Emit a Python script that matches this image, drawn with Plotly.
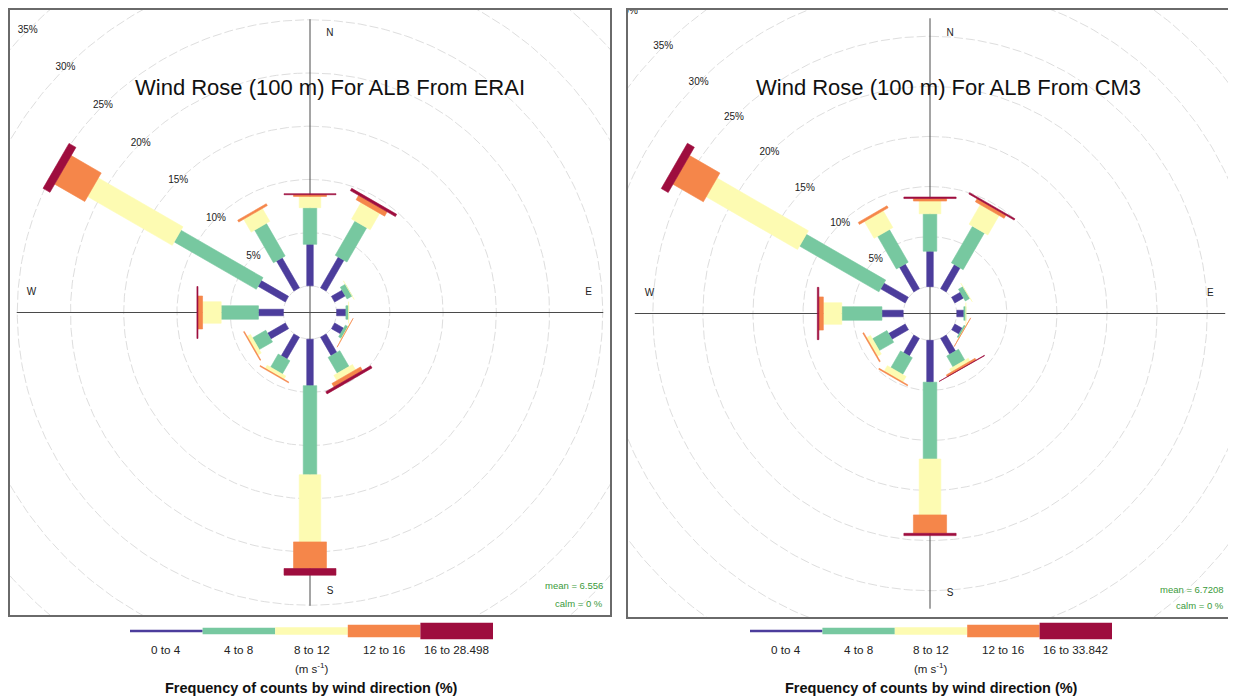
import numpy as np
import plotly.graph_objects as go

# page body has an 8px margin; figure is placed at (8, 8)
PAGE_OFF = 8
FIG_W, FIG_H = 1236 - PAGE_OFF, 698 - PAGE_OFF

# ---------------- data ----------------
directions = [0, 30, 60, 90, 120, 150, 180, 210, 240, 270, 300, 330]
grid_pcts = [0, 5, 10, 15, 20, 25, 30, 35, 40]

# ERAI: frequency (%) by direction for each speed bin
erai_0_4 = [3.90, 3.34, 1.15, 0.87, 0.97, 2.00, 4.37, 2.37, 1.93, 2.34, 2.96, 3.26]
erai_4_8 = [3.44, 3.72, 0.55, 0.25, 0.28, 1.73, 8.37, 1.43, 1.44, 3.50, 8.90, 3.54]
erai_8_12 = [1.06, 1.78, 0.05, 0.03, 0.03, 0.57, 6.31, 0.35, 0.36, 1.75, 9.18, 1.40]
erai_12_16 = [0.16, 0.47, 0.00, 0.00, 0.05, 0.38, 2.50, 0.08, 0.08, 0.43, 3.26, 0.20]
erai_16_up = [0.10, 0.25, 0.00, 0.00, 0.00, 0.24, 0.63, 0.00, 0.00, 0.10, 0.75, 0.00]

# CM3
cm3_0_4 = [3.54, 2.77, 1.00, 0.70, 0.85, 1.84, 4.18, 2.03, 1.90, 2.12, 2.82, 2.85]
cm3_4_8 = [3.74, 4.23, 0.50, 0.20, 0.18, 1.26, 7.67, 1.93, 1.66, 4.01, 9.15, 3.76]
cm3_8_12 = [1.27, 2.25, 0.06, 0.03, 0.03, 0.35, 5.58, 0.64, 0.45, 1.84, 10.53, 1.94]
cm3_12_16 = [0.25, 0.35, 0.00, 0.00, 0.05, 0.20, 1.84, 0.10, 0.10, 0.45, 3.50, 0.23]
cm3_16_up = [0.15, 0.15, 0.00, 0.00, 0.00, 0.05, 0.23, 0.00, 0.00, 0.15, 0.80, 0.00]

erai_labels = ["0 to 4", "4 to 8", "8 to 12", "12 to 16", "16 to 28.498"]
cm3_labels = ["0 to 4", "4 to 8", "8 to 12", "12 to 16", "16 to 33.842"]
erai_mean, cm3_mean = "6.556", "6.7208"
erai_calm, cm3_calm = "0", "0"

# ---------------- style ----------------
colors = ["#4C3D9C", "#77C8A0", "#FDFBB2", "#F5864A", "#9E0D3E"]
half_width_frac = [0.0122, 0.0253, 0.0403, 0.0618, 0.0974]
legend_heights = [2.7, 6.7, 7.7, 12.3, 16.7]
FONT = "Liberation Sans, Arial, sans-serif"
RANGE_F = 1.023


def px_x(px):
    return (px - PAGE_OFF) / FIG_W


def px_y(py):
    return 1 - (py - PAGE_OFF) / FIG_H


panels = [
    dict(bins=[erai_0_4, erai_4_8, erai_8_12, erai_12_16, erai_16_up],
         xa="x", ya="y", box=(10, 10, 610, 615),
         title="Wind Rose (100 m) For ALB From ERAI", title_x=330,
         labels=erai_labels, mean=erai_mean, calm=erai_calm,
         leg_x0=130, leg_x1=493, mean_y=585, calm_y=603, stat_x=605),
    dict(bins=[cm3_0_4, cm3_4_8, cm3_8_12, cm3_12_16, cm3_16_up],
         xa="x2", ya="y2", box=(628, 10, 1232, 617),
         title="Wind Rose (100 m) For ALB From CM3", title_x=948,
         labels=cm3_labels, mean=cm3_mean, calm=cm3_calm,
         leg_x0=750, leg_x1=1112, mean_y=589, calm_y=605, stat_x=1226),
]

fig = go.Figure()
layout_axes = {}
shapes = []
annotations = []

ang = np.linspace(0, 2 * np.pi, 361)

for P in panels:
    bins = np.array(P["bins"], dtype=float)
    totals = bins.sum(axis=0)
    mx = totals.max()
    hole = 0.1 * mx
    cum = np.cumsum(bins, axis=0)
    start = cum - bins
    xa, ya = P["xa"], P["ya"]

    # grid circles
    for g in grid_pcts:
        r = hole + g
        fig.add_trace(go.Scatter(
            x=r * np.sin(ang), y=r * np.cos(ang), mode="lines",
            line=dict(color="#dedede", width=1, dash="9px,3px"),
            hoverinfo="skip", showlegend=False, xaxis=xa, yaxis=ya))

    # axis cross lines
    L = mx + hole
    fig.add_trace(go.Scatter(
        x=[-L, L, None, 0, 0], y=[0, 0, None, -L, L], mode="lines",
        line=dict(color="#4a4a4a", width=1),
        hoverinfo="skip", showlegend=False, xaxis=xa, yaxis=ya))

    # paddles
    for j in range(bins.shape[0]):
        w = half_width_frac[j] * mx
        xs, ys = [], []
        for i, th in enumerate(directions):
            if bins[j, i] <= 0:
                continue
            t = np.deg2rad(th)
            dx, dy = np.sin(t), np.cos(t)
            qx, qy = np.cos(t), -np.sin(t)
            r0 = hole + start[j, i]
            r1 = hole + cum[j, i]
            pts = [(r0 * dx - w * qx, r0 * dy - w * qy),
                   (r0 * dx + w * qx, r0 * dy + w * qy),
                   (r1 * dx + w * qx, r1 * dy + w * qy),
                   (r1 * dx - w * qx, r1 * dy - w * qy),
                   (r0 * dx - w * qx, r0 * dy - w * qy)]
            xs += [p[0] for p in pts] + [None]
            ys += [p[1] for p in pts] + [None]
        fig.add_trace(go.Scatter(
            x=xs, y=ys, mode="lines", fill="toself", fillcolor=colors[j],
            line=dict(color=colors[j], width=0.6),
            hoverinfo="skip", showlegend=False, xaxis=xa, yaxis=ya))

    # percentage labels (along NW diagonal)
    s45 = np.sin(np.pi / 4)
    lab_r = [hole + g for g in grid_pcts[1:]]
    fig.add_trace(go.Scatter(
        x=[-r * s45 for r in lab_r], y=[r * s45 for r in lab_r],
        mode="text", text=[f"{g}%" for g in grid_pcts[1:]],
        textfont=dict(family=FONT, size=10, color="#222"),
        cliponaxis=True, hoverinfo="skip", showlegend=False,
        xaxis=xa, yaxis=ya))

    # compass labels
    Rl = 0.95 * (mx + hole)
    d = 0.075 * mx
    fig.add_trace(go.Scatter(
        x=[d, Rl, d, -Rl], y=[Rl, d, -Rl, d], mode="text",
        text=["N", "E", "S", "W"],
        textfont=dict(family=FONT, size=10, color="#222"),
        hoverinfo="skip", showlegend=False, xaxis=xa, yaxis=ya))

    # axes (frame)
    x0, y0, x1, y1 = P["box"]
    wpx, hpx = x1 - x0, y1 - y0
    R = (mx + hole) * RANGE_F
    Ry = R * hpx / wpx
    ax_common = dict(showgrid=False, zeroline=False, showticklabels=False,
                     ticks="", showline=True, mirror=True,
                     linecolor="#6a6a6a", linewidth=1.5, fixedrange=True)
    xkey = "xaxis" if xa == "x" else "xaxis2"
    ykey = "yaxis" if ya == "y" else "yaxis2"
    layout_axes[xkey] = dict(ax_common, domain=[px_x(x0), px_x(x1)],
                             range=[-R, R], anchor=ya)
    layout_axes[ykey] = dict(ax_common, domain=[px_y(y1), px_y(y0)],
                             range=[-Ry, Ry], anchor=xa)

    # title inside panel
    annotations.append(dict(
        x=px_x(P["title_x"]), y=px_y(87), xref="paper", yref="paper",
        text=P["title"], showarrow=False, xanchor="center", yanchor="middle",
        font=dict(family=FONT, size=22, color="#111")))

    # mean / calm
    annotations.append(dict(
        x=px_x(P["stat_x"]), y=px_y(P["mean_y"]), xref="paper", yref="paper",
        text=f"mean = {P['mean']}", showarrow=False, xanchor="right",
        yanchor="middle", font=dict(family=FONT, size=9.5, color="#3a9a3a")))
    annotations.append(dict(
        x=px_x(P["stat_x"]), y=px_y(P["calm_y"]), xref="paper", yref="paper",
        text=f"calm = {P['calm']} %", showarrow=False, xanchor="right",
        yanchor="middle", font=dict(family=FONT, size=9.5, color="#3a9a3a")))

    # legend key
    lx0, lx1 = P["leg_x0"], P["leg_x1"]
    seg = (lx1 - lx0) / len(colors)
    ycen = 631
    for j, c in enumerate(colors):
        hh = legend_heights[j] / 2
        shapes.append(dict(
            type="rect", xref="paper", yref="paper",
            x0=px_x(lx0 + j * seg), x1=px_x(lx0 + (j + 1) * seg),
            y0=px_y(ycen + hh), y1=px_y(ycen - hh),
            fillcolor=c, line=dict(width=0)))
        annotations.append(dict(
            x=px_x(lx0 + (j + 0.5) * seg), y=px_y(649), xref="paper",
            yref="paper", text=P["labels"][j], showarrow=False,
            xanchor="center", yanchor="middle",
            font=dict(family=FONT, size=11.7, color="#222")))
    mid = (lx0 + lx1) / 2
    annotations.append(dict(
        x=px_x(mid), y=px_y(668), xref="paper", yref="paper",
        text="(m s<sup>-1</sup>)", showarrow=False, xanchor="center",
        yanchor="middle", font=dict(family=FONT, size=11.5, color="#222")))
    annotations.append(dict(
        x=px_x(mid), y=px_y(688), xref="paper", yref="paper",
        text="<b>Frequency of counts by wind direction (%)</b>",
        showarrow=False, xanchor="center", yanchor="middle",
        font=dict(family=FONT, size=14.5, color="#111")))

fig.update_layout(
    width=FIG_W, height=FIG_H,
    margin=dict(l=0, r=0, t=0, b=0),
    paper_bgcolor="white", plot_bgcolor="white",
    showlegend=False,
    shapes=shapes, annotations=annotations,
    **layout_axes,
)

fig.write_html("out.html")
